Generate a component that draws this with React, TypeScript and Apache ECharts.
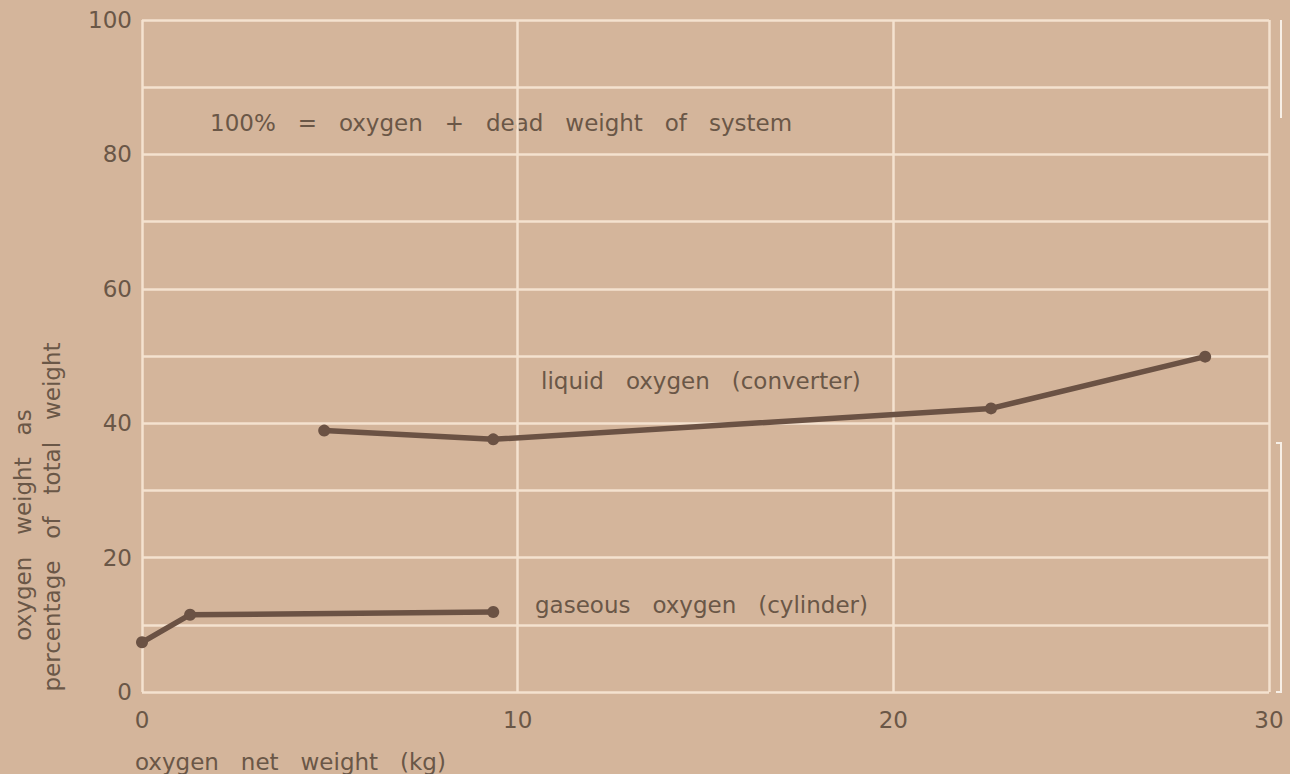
import React, { useEffect, useRef } from "react";
import * as echarts from "echarts";

const liquidX = [4.85, 9.35, 22.6, 28.3];
const liquidY = [38.9, 37.6, 42.2, 49.9];
const gasX = [0, 1.28, 9.35];
const gasY = [7.4, 11.5, 11.9];
const yTickLabels = ["0", "20", "40", "60", "80", "100"];
const xTickLabels = ["0", "10", "20", "30"];

const FONT = "DejaVu Sans";
const TEXT = "#6a5747";
const BG = "#d4b59b";
const GRID = "#f4e2cf";
const LINE = "#6b5244";
const FS = 23;

export default function App() {
  const ref = useRef<HTMLDivElement>(null);
  useEffect(() => {
    if (!ref.current) return;
    const chart = echarts.init(ref.current, null, { renderer: "svg" });
    const mk = (xs: number[], ys: number[]) => xs.map((x, i) => [x, ys[i]]);
    const txt = (text: string, x: number, y: number) => ({
      type: "text",
      x,
      y,
      style: { text, fill: TEXT, font: `${FS}px "${FONT}"`, align: "left", verticalAlign: "middle" },
    });
    chart.setOption({
      animation: false,
      backgroundColor: BG,
      textStyle: { fontFamily: FONT },
      grid: { left: 142, right: 21, top: 20, bottom: 82, containLabel: false },
      xAxis: {
        type: "value",
        min: 0,
        max: 30,
        interval: 10,
        axisLine: { show: false },
        axisTick: { show: false },
        splitLine: { show: true, lineStyle: { color: GRID, width: 2.5 } },
        axisLabel: {
          color: TEXT,
          fontSize: FS,
          fontFamily: FONT,
          margin: 16,
          formatter: (v: number) => (xTickLabels.includes(String(v)) ? String(v) : ""),
        },
      },
      yAxis: {
        type: "value",
        min: 0,
        max: 100,
        interval: 10,
        axisLine: { show: false },
        axisTick: { show: false },
        splitLine: { show: true, lineStyle: { color: GRID, width: 2.5 } },
        axisLabel: {
          color: TEXT,
          fontSize: FS,
          fontFamily: FONT,
          margin: 10,
          formatter: (v: number) => (yTickLabels.includes(String(v)) ? String(v) : ""),
        },
      },
      series: [
        {
          type: "line",
          name: "liquid oxygen (converter)",
          data: mk(liquidX, liquidY),
          symbol: "circle",
          symbolSize: 12,
          lineStyle: { color: LINE, width: 5.5 },
          itemStyle: { color: LINE },
        },
        {
          type: "line",
          name: "gaseous oxygen (cylinder)",
          data: mk(gasX, gasY),
          symbol: "circle",
          symbolSize: 12,
          lineStyle: { color: LINE, width: 5.5 },
          itemStyle: { color: LINE },
        },
      ],
      graphic: [
        txt("100%   =   oxygen   +   dead   weight   of   system", 210, 123),
        txt("liquid   oxygen   (converter)", 541, 381),
        txt("gaseous   oxygen   (cylinder)", 535, 605),
        txt("oxygen   net   weight   (kg)", 135, 762),
        {
          type: "text",
          x: 23,
          y: 525,
          rotation: Math.PI / 2,
          style: {
            text: "oxygen   weight   as",
            fill: TEXT,
            font: `${FS}px "${FONT}"`,
            align: "center",
            verticalAlign: "middle",
          },
        },
        {
          type: "text",
          x: 52,
          y: 517,
          rotation: Math.PI / 2,
          style: {
            text: "percentage   of   total   weight",
            fill: TEXT,
            font: `${FS}px "${FONT}"`,
            align: "center",
            verticalAlign: "middle",
          },
        },
        {
          type: "polyline",
          shape: { points: [[1276, 443], [1281, 443], [1281, 692], [1276, 692]] },
          style: { stroke: "#f7efe6", lineWidth: 2, fill: "none" },
        },
        {
          type: "line",
          shape: { x1: 1281, y1: 20, x2: 1281, y2: 118 },
          style: { stroke: "#f7efe6", lineWidth: 2 },
        },
      ],
    });
    return () => chart.dispose();
  }, []);
  return (
    <div
      ref={ref}
      style={{ position: "fixed", left: 0, top: 0, width: 1290, height: 774 }}
    />
  );
}
